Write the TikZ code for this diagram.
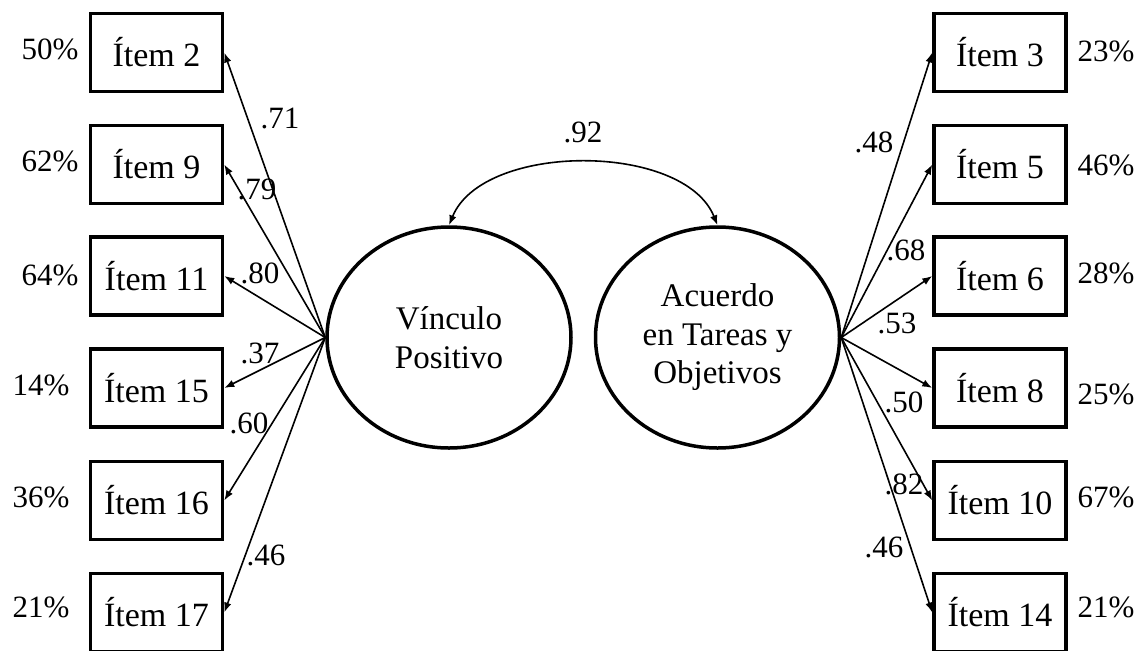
\documentclass[tikz,border=0pt]{standalone}
\usepackage{fontspec}
\setmainfont{Liberation Serif}
\usetikzlibrary{shapes.geometric,arrows.meta}

\begin{document}
\begin{tikzpicture}[x=1pt,y=-1pt,font=\fontsize{31}{37}\selectfont]
   \tikzset{item/.style={draw,rectangle,line width=3.5pt,minimum width=132pt,minimum height=78pt,inner sep=0pt,font=\fontsize{34}{40}\selectfont},
            factor/.style={draw,ellipse,line width=3.5pt,minimum width=244pt,minimum height=221pt,inner sep=0pt,align=center,font=\fontsize{33}{38.5}\selectfont},
            load/.style={-{Latex[length=10pt,width=7.5pt]},line width=1.6pt}};
   \useasboundingbox (0,0) rectangle (1144,651);

\node[factor] (vp) at (449,337.5) {V\'inculo\\Positivo};
\node[factor] (tareas) at (717.5,337.5) {Acuerdo\\en Tareas y\\Objetivos};

\node[item] (i2) at (156.5,52.5) {\'Item 2};
\node[item] (i9) at (156.5,164.5) {\'Item 9};
\node[item] (i11) at (156.5,276) {\'Item 11};
\node[item] (i15) at (156.5,388) {\'Item 15};
\node[item] (i16) at (156.5,500.5) {\'Item 16};
\node[item] (i17) at (156.5,612.5) {\'Item 17};

\node[item] (i3) at (1000,52.5) {\'Item 3};
\node[item] (i5) at (1000,164.5) {\'Item 5};
\node[item] (i6) at (1000,276) {\'Item 6};
\node[item] (i8) at (1000,388) {\'Item 8};
\node[item] (i10) at (1000,500.5) {\'Item 10};
\node[item] (i14) at (1000,612.5) {\'Item 14};

\draw[load] (vp.west) -- (i2.east);
\draw[load] (vp.west) -- (i9.east);
\draw[load] (vp.west) -- (i11.east);
\draw[load] (vp.west) -- (i15.east);
\draw[load] (vp.west) -- (i16.east);
\draw[load] (vp.west) -- (i17.east);

\draw[load] (tareas.east) -- (i3.west);
\draw[load] (tareas.east) -- (i5.west);
\draw[load] (tareas.east) -- (i6.west);
\draw[load] (tareas.east) -- (i8.west);
\draw[load] (tareas.east) -- (i10.west);
\draw[load] (tareas.east) -- (i14.west);

\draw[{Latex[length=10pt,width=7.5pt]}-{Latex[length=10pt,width=7.5pt]},line width=1.6pt]
   (vp.north) .. controls (483,142) and (684,142) .. (tareas.north);
\node (r) at (583,132) {.92};

\node (w2) at (280,118) {.71};
\node (w9) at (257,189) {.79};
\node (w11) at (260,273) {.80};
\node (w15) at (260,353) {.37};
\node (w16) at (249,423) {.60};
\node (w17) at (266,555) {.46};

\node (w3) at (874,142) {.48};
\node (w5) at (906,250) {.68};
\node (w6) at (897,323) {.53};
\node (w8) at (904,402) {.50};
\node (w10) at (904,484) {.82};
\node (w14) at (884,547) {.46};

\node (p2) at (50,49) {50\%};
\node (p9) at (50,161) {62\%};
\node (p11) at (50,275) {64\%};
\node (p15) at (41,385) {14\%};
\node (p16) at (41,497) {36\%};
\node (p17) at (41,607) {21\%};

\node (p3) at (1106,51) {23\%};
\node (p5) at (1106,165) {46\%};
\node (p6) at (1106,273) {28\%};
\node (p8) at (1106,394) {25\%};
\node (p10) at (1106,497) {67\%};
\node (p14) at (1106,607) {21\%};

\end{tikzpicture}
\end{document}
